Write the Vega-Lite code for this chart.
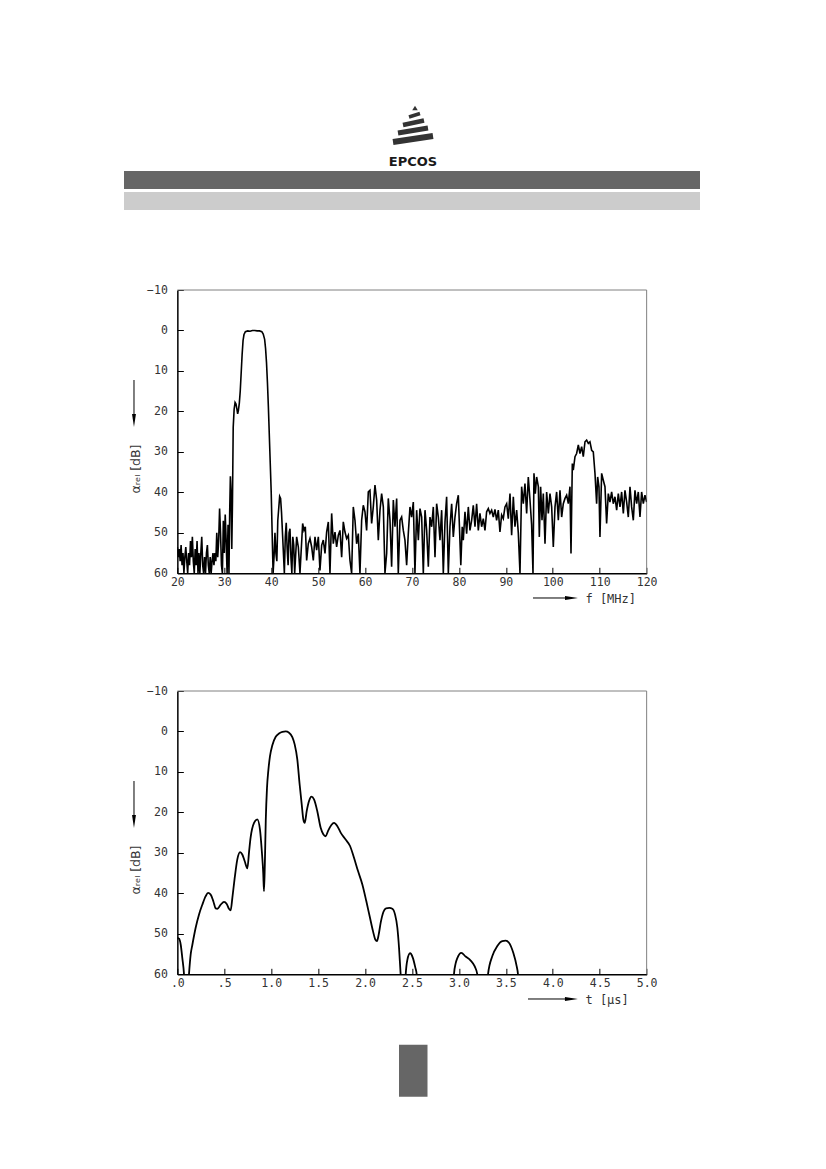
{
  "$schema": "https://vega.github.io/schema/vega-lite/v6.json",
  "background": "white",
  "padding": {"left": 124, "top": 95, "right": 0, "bottom": 0},
  "bounds": "flush",
  "center": true,
  "spacing": 20,
  "config": {
    "view": {"stroke": null},
    "axis": {
      "grid": false,
      "domainColor": "#000000",
      "domainWidth": 1.5,
      "tickColor": "#000000",
      "tickWidth": 1,
      "tickSize": -6,
      "labelFont": "DejaVu Sans Mono",
      "labelFontSize": 11.5,
      "labelColor": "#333333",
      "labelFlush": false,
      "labelOverlap": false,
      "titleFont": "DejaVu Sans Mono",
      "titleFontSize": 12,
      "titleFontWeight": "normal",
      "titleColor": "#333333"
    },
    "axisX": {"labelPadding": 9},
    "axisY": {"labelPadding": 16}
  },
  "vconcat": [
    {
      "width": 576,
      "height": 175,
      "data": {"values": [{}]},
      "layer": [
        {
          "mark": {"type": "rect", "opacity": 0},
          "encoding": {
            "x": {"datum": 124, "type": "quantitative", "scale": {"domain": [124, 700], "nice": false, "zero": false}, "axis": null},
            "x2": {"datum": 700},
            "y": {"datum": 95, "type": "quantitative", "scale": {"domain": [95, 270], "nice": false, "zero": false, "reverse": true}, "axis": null},
            "y2": {"datum": 270}
          }
        },
        {
          "mark": {"type": "rect", "color": "#666666"},
          "encoding": {"x": {"datum": 124}, "x2": {"datum": 700}, "y": {"datum": 171}, "y2": {"datum": 189}}
        },
        {
          "mark": {"type": "rect", "color": "#cccccc"},
          "encoding": {"x": {"datum": 124}, "x2": {"datum": 700}, "y": {"datum": 192}, "y2": {"datum": 210}}
        },
        {
          "mark": {"type": "point", "shape": "triangle-up", "filled": true, "size": 30, "color": "#333333", "opacity": 1},
          "encoding": {"x": {"datum": 415}, "y": {"datum": 108}}
        },
        {
          "mark": {"type": "rule", "color": "#333333", "strokeWidth": 3.5},
          "encoding": {"x": {"datum": 409}, "x2": {"datum": 420}, "y": {"datum": 117}, "y2": {"datum": 113.5}}
        },
        {
          "mark": {"type": "rule", "color": "#333333", "strokeWidth": 4.5},
          "encoding": {"x": {"datum": 403}, "x2": {"datum": 424}, "y": {"datum": 125}, "y2": {"datum": 120.5}}
        },
        {
          "mark": {"type": "rule", "color": "#333333", "strokeWidth": 5},
          "encoding": {"x": {"datum": 398}, "x2": {"datum": 428}, "y": {"datum": 133}, "y2": {"datum": 128}}
        },
        {
          "mark": {"type": "rule", "color": "#333333", "strokeWidth": 6},
          "encoding": {"x": {"datum": 393}, "x2": {"datum": 433}, "y": {"datum": 142}, "y2": {"datum": 136}}
        },
        {
          "mark": {"type": "text", "text": "EPCOS", "font": "DejaVu Sans", "fontWeight": "bold", "fontSize": 13, "color": "#1a1a1a", "align": "center", "baseline": "alphabetic"},
          "encoding": {"x": {"datum": 413}, "y": {"datum": 166}}
        }
      ]
    },
    {
      "width": 469.3,
      "height": 283.3,
      "data": {
        "values": [
          {"f": 20.0, "a": 53.5}, {"f": 20.2, "a": 56}, {"f": 20.4, "a": 54}, {"f": 20.6, "a": 57}, {"f": 20.8, "a": 53},
          {"f": 21.0, "a": 58}, {"f": 21.2, "a": 55}, {"f": 21.4, "a": 60}, {"f": 21.6, "a": 56}, {"f": 21.8, "a": 53.5},
          {"f": 22.0, "a": 57}, {"f": 22.2, "a": 60}, {"f": 22.4, "a": 55}, {"f": 22.6, "a": 58}, {"f": 22.8, "a": 52},
          {"f": 23.0, "a": 56}, {"f": 23.2, "a": 51}, {"f": 23.4, "a": 57}, {"f": 23.6, "a": 60}, {"f": 23.8, "a": 54},
          {"f": 24.0, "a": 58}, {"f": 24.2, "a": 52}, {"f": 24.4, "a": 60}, {"f": 24.6, "a": 55}, {"f": 24.8, "a": 60},
          {"f": 25.0, "a": 55}, {"f": 25.2, "a": 51}, {"f": 25.4, "a": 58}, {"f": 25.6, "a": 60}, {"f": 25.8, "a": 56},
          {"f": 26.0, "a": 60}, {"f": 26.2, "a": 55}, {"f": 26.4, "a": 53}, {"f": 26.6, "a": 58}, {"f": 26.8, "a": 60},
          {"f": 27.0, "a": 56}, {"f": 27.2, "a": 60}, {"f": 27.4, "a": 57}, {"f": 27.6, "a": 55}, {"f": 27.8, "a": 58},
          {"f": 28.0, "a": 55}, {"f": 28.2, "a": 57}, {"f": 28.4, "a": 50}, {"f": 28.6, "a": 56}, {"f": 28.8, "a": 52},
          {"f": 29.0, "a": 44}, {"f": 29.2, "a": 50}, {"f": 29.4, "a": 58}, {"f": 29.6, "a": 60}, {"f": 29.8, "a": 47},
          {"f": 30.0, "a": 55}, {"f": 30.2, "a": 45.5}, {"f": 30.4, "a": 52}, {"f": 30.6, "a": 60}, {"f": 30.8, "a": 48},
          {"f": 31.0, "a": 60}, {"f": 31.15, "a": 45}, {"f": 31.3, "a": 36}, {"f": 31.45, "a": 40}, {"f": 31.6, "a": 54},
          {"f": 31.75, "a": 42}, {"f": 31.9, "a": 24}, {"f": 32.1, "a": 19.5}, {"f": 32.3, "a": 17.8}, {"f": 32.5, "a": 18.2},
          {"f": 32.7, "a": 19.5}, {"f": 32.85, "a": 20.6}, {"f": 33.0, "a": 19.8}, {"f": 33.2, "a": 18}, {"f": 33.4, "a": 15},
          {"f": 33.6, "a": 10.5}, {"f": 33.8, "a": 6}, {"f": 34.0, "a": 2.5}, {"f": 34.2, "a": 1}, {"f": 34.5, "a": 0.3},
          {"f": 35.0, "a": 0.1}, {"f": 35.5, "a": 0.2}, {"f": 36.0, "a": 0}, {"f": 36.5, "a": 0}, {"f": 37.0, "a": 0.1},
          {"f": 37.5, "a": 0.1}, {"f": 38.0, "a": 0.3}, {"f": 38.3, "a": 0.9}, {"f": 38.6, "a": 2.2}, {"f": 38.8, "a": 4.5},
          {"f": 39.0, "a": 8}, {"f": 39.2, "a": 13}, {"f": 39.4, "a": 19}, {"f": 39.6, "a": 26}, {"f": 39.8, "a": 33},
          {"f": 40.0, "a": 40}, {"f": 40.2, "a": 50}, {"f": 40.4, "a": 60}, {"f": 40.6, "a": 56}, {"f": 40.8, "a": 50},
          {"f": 41.0, "a": 55}, {"f": 41.2, "a": 57}, {"f": 41.4, "a": 47}, {"f": 41.6, "a": 44}, {"f": 41.8, "a": 41},
          {"f": 42.0, "a": 41.5}, {"f": 42.2, "a": 45}, {"f": 42.4, "a": 50}, {"f": 42.6, "a": 55}, {"f": 42.8, "a": 60},
          {"f": 43.0, "a": 51}, {"f": 43.2, "a": 47.5}, {"f": 43.4, "a": 54}, {"f": 43.6, "a": 58}, {"f": 43.8, "a": 50},
          {"f": 44.0, "a": 49}, {"f": 44.2, "a": 56}, {"f": 44.4, "a": 60}, {"f": 44.6, "a": 51}, {"f": 44.8, "a": 53},
          {"f": 45.0, "a": 60}, {"f": 45.42, "a": 51}, {"f": 45.78, "a": 53.5}, {"f": 46.13, "a": 60}, {"f": 46.7, "a": 47.7},
          {"f": 46.98, "a": 49.4}, {"f": 47.27, "a": 48.5}, {"f": 47.55, "a": 56.8}, {"f": 47.9, "a": 52.7}, {"f": 48.26, "a": 51.4},
          {"f": 48.62, "a": 53.5}, {"f": 48.97, "a": 56.8}, {"f": 49.33, "a": 51}, {"f": 49.68, "a": 54.3}, {"f": 50.04, "a": 51},
          {"f": 50.39, "a": 59.3}, {"f": 50.75, "a": 53.1}, {"f": 51.1, "a": 51.8}, {"f": 51.46, "a": 55.1}, {"f": 51.81, "a": 49.8},
          {"f": 52.17, "a": 47.3}, {"f": 52.52, "a": 60}, {"f": 52.88, "a": 45.2}, {"f": 53.23, "a": 52.7}, {"f": 53.59, "a": 49.8},
          {"f": 53.94, "a": 53.5}, {"f": 54.3, "a": 50.6}, {"f": 54.65, "a": 49.4}, {"f": 55.01, "a": 56}, {"f": 55.36, "a": 47.3},
          {"f": 55.72, "a": 49.8}, {"f": 56.07, "a": 51.4}, {"f": 56.43, "a": 50.6}, {"f": 56.78, "a": 56.8}, {"f": 57.14, "a": 60},
          {"f": 57.49, "a": 43.6}, {"f": 57.85, "a": 46.9}, {"f": 58.2, "a": 52.7}, {"f": 58.56, "a": 50.2}, {"f": 58.91, "a": 60},
          {"f": 59.27, "a": 46.9}, {"f": 59.62, "a": 43.2}, {"f": 59.98, "a": 44.8}, {"f": 60.33, "a": 49.4}, {"f": 60.69, "a": 39.9},
          {"f": 61.04, "a": 39.5}, {"f": 61.4, "a": 47.7}, {"f": 61.75, "a": 43.6}, {"f": 62.11, "a": 38.2}, {"f": 62.47, "a": 41.9},
          {"f": 62.82, "a": 51.8}, {"f": 63.18, "a": 44.4}, {"f": 63.53, "a": 40.3}, {"f": 63.89, "a": 43.6}, {"f": 64.24, "a": 60},
          {"f": 64.6, "a": 55.1}, {"f": 64.95, "a": 41.5}, {"f": 65.31, "a": 46.9}, {"f": 65.66, "a": 58.4}, {"f": 66.02, "a": 41.9},
          {"f": 66.37, "a": 48.5}, {"f": 66.73, "a": 41.5}, {"f": 67.08, "a": 60}, {"f": 67.44, "a": 46.9}, {"f": 67.79, "a": 46.1},
          {"f": 68.15, "a": 49.4}, {"f": 68.5, "a": 51.8}, {"f": 68.86, "a": 58}, {"f": 69.21, "a": 50.2}, {"f": 69.57, "a": 43.6},
          {"f": 69.92, "a": 46.1}, {"f": 70.28, "a": 42.4}, {"f": 70.63, "a": 60}, {"f": 70.99, "a": 44.4}, {"f": 71.35, "a": 51.8},
          {"f": 71.7, "a": 44}, {"f": 72.06, "a": 46.1}, {"f": 72.41, "a": 60}, {"f": 72.77, "a": 44.4}, {"f": 73.12, "a": 49.4},
          {"f": 73.48, "a": 58.4}, {"f": 73.83, "a": 46.1}, {"f": 74.19, "a": 48.5}, {"f": 74.54, "a": 43.6}, {"f": 74.9, "a": 56},
          {"f": 75.25, "a": 42.8}, {"f": 75.61, "a": 46.1}, {"f": 75.96, "a": 51.8}, {"f": 76.32, "a": 44.4}, {"f": 76.67, "a": 60},
          {"f": 77.03, "a": 47.3}, {"f": 77.38, "a": 41.1}, {"f": 77.74, "a": 60}, {"f": 78.09, "a": 48.5}, {"f": 78.45, "a": 42.8},
          {"f": 78.8, "a": 51}, {"f": 79.16, "a": 46.1}, {"f": 79.51, "a": 42.8}, {"f": 79.87, "a": 40.7}, {"f": 80.4, "a": 58},
          {"f": 80.7, "a": 48.5}, {"f": 80.93, "a": 51.8}, {"f": 81.29, "a": 44.8}, {"f": 81.64, "a": 50.2}, {"f": 82.0, "a": 43.6},
          {"f": 82.35, "a": 49.4}, {"f": 82.71, "a": 46.9}, {"f": 83.06, "a": 43.2}, {"f": 83.42, "a": 48.5}, {"f": 83.77, "a": 42.8},
          {"f": 84.13, "a": 49.4}, {"f": 84.48, "a": 45.2}, {"f": 84.84, "a": 48.5}, {"f": 85.19, "a": 46.5}, {"f": 85.55, "a": 49.4},
          {"f": 85.9, "a": 44.8}, {"f": 86.26, "a": 44}, {"f": 86.61, "a": 45.2}, {"f": 86.97, "a": 44.4}, {"f": 87.32, "a": 46.1},
          {"f": 87.68, "a": 44.2}, {"f": 88.03, "a": 46.9}, {"f": 88.39, "a": 44.4}, {"f": 88.74, "a": 49.8}, {"f": 89.1, "a": 45.6},
          {"f": 89.45, "a": 46.5}, {"f": 89.81, "a": 43.6}, {"f": 90.17, "a": 42.8}, {"f": 90.52, "a": 46.5}, {"f": 90.88, "a": 40.3},
          {"f": 91.23, "a": 50.6}, {"f": 91.59, "a": 41.1}, {"f": 91.94, "a": 48.5}, {"f": 92.3, "a": 44.4}, {"f": 92.65, "a": 50},
          {"f": 93.01, "a": 60}, {"f": 93.36, "a": 38.6}, {"f": 93.72, "a": 42.8}, {"f": 94.07, "a": 37.8}, {"f": 94.43, "a": 45.2},
          {"f": 94.78, "a": 36.2}, {"f": 95.14, "a": 41.9}, {"f": 95.49, "a": 48}, {"f": 95.78, "a": 60}, {"f": 95.99, "a": 35.3},
          {"f": 96.27, "a": 40.3}, {"f": 96.56, "a": 36.2}, {"f": 96.92, "a": 38.6}, {"f": 97.13, "a": 51}, {"f": 97.41, "a": 38.6},
          {"f": 97.7, "a": 46.9}, {"f": 97.98, "a": 40.3}, {"f": 98.34, "a": 52.7}, {"f": 98.69, "a": 39.9}, {"f": 99.05, "a": 45.2},
          {"f": 99.4, "a": 40.3}, {"f": 99.76, "a": 43.6}, {"f": 100.11, "a": 53.5}, {"f": 100.47, "a": 43.6}, {"f": 100.82, "a": 39.9},
          {"f": 101.18, "a": 46.9}, {"f": 101.53, "a": 39.5}, {"f": 101.89, "a": 46.1}, {"f": 102.24, "a": 42.8}, {"f": 102.6, "a": 41.5},
          {"f": 102.95, "a": 40.7}, {"f": 103.31, "a": 42.8}, {"f": 103.66, "a": 38.6}, {"f": 103.88, "a": 55.1}, {"f": 104.16, "a": 32.9},
          {"f": 104.37, "a": 34.5}, {"f": 104.73, "a": 31.2}, {"f": 105.08, "a": 30.4}, {"f": 105.44, "a": 28.3}, {"f": 105.79, "a": 30.4},
          {"f": 106.15, "a": 28.7}, {"f": 106.5, "a": 31.2}, {"f": 106.86, "a": 27.5}, {"f": 107.21, "a": 27.1}, {"f": 107.57, "a": 27.9},
          {"f": 107.92, "a": 27.5}, {"f": 108.28, "a": 29.6}, {"f": 108.63, "a": 30}, {"f": 108.99, "a": 35.3}, {"f": 109.34, "a": 42.8},
          {"f": 109.56, "a": 36.2}, {"f": 109.84, "a": 38.6}, {"f": 110.05, "a": 51}, {"f": 110.41, "a": 35.3}, {"f": 110.76, "a": 37},
          {"f": 111.12, "a": 38.6}, {"f": 111.47, "a": 47.7}, {"f": 111.83, "a": 40.3}, {"f": 112.18, "a": 42.4}, {"f": 112.54, "a": 39.9},
          {"f": 112.89, "a": 42.8}, {"f": 113.25, "a": 41.1}, {"f": 113.61, "a": 44.4}, {"f": 113.96, "a": 40.3}, {"f": 114.32, "a": 43.6},
          {"f": 114.67, "a": 39.9}, {"f": 115.03, "a": 45.2}, {"f": 115.38, "a": 39.5}, {"f": 115.74, "a": 42.4}, {"f": 116.09, "a": 46.1},
          {"f": 116.45, "a": 38.6}, {"f": 116.8, "a": 43.6}, {"f": 117.16, "a": 46.9}, {"f": 117.51, "a": 39.5}, {"f": 117.87, "a": 42.8},
          {"f": 118.22, "a": 39.9}, {"f": 118.58, "a": 46.1}, {"f": 118.93, "a": 39.9}, {"f": 119.29, "a": 42.8}, {"f": 119.64, "a": 40.7},
          {"f": 120.0, "a": 42.4}
        ]
      },
      "layer": [
        {
          "data": {"values": [{}]},
          "mark": {"type": "rule", "color": "#808080", "strokeWidth": 1},
          "encoding": {"x": {"datum": 20}, "x2": {"datum": 120}, "y": {"datum": -10}}
        },
        {
          "data": {"values": [{}]},
          "mark": {"type": "rule", "color": "#808080", "strokeWidth": 1},
          "encoding": {"x": {"datum": 120}, "y": {"datum": -10}, "y2": {"datum": 60}}
        },
        {
          "mark": {"type": "line", "color": "#000000", "strokeWidth": 1.6, "clip": true},
          "encoding": {
            "x": {
              "field": "f", "type": "quantitative",
              "scale": {"domain": [20, 120], "nice": false, "zero": false},
              "axis": {
                "values": [20, 25, 30, 35, 40, 45, 50, 55, 60, 65, 70, 75, 80, 85, 90, 95, 100, 105, 110, 115, 120],
                "labelExpr": "datum.value % 10 === 0 ? datum.label : ''",
                "title": "f [MHz]",
                "titleX": 407.6, "titleY": 25.5, "titleAlign": "left", "titleBaseline": "middle"
              }
            },
            "y": {
              "field": "a", "type": "quantitative",
              "scale": {"domain": [-10, 60], "nice": false, "zero": false, "reverse": true},
              "axis": {
                "values": [-10, -5, 0, 5, 10, 15, 20, 25, 30, 35, 40, 45, 50, 55, 60],
                "labelExpr": "datum.value % 10 === 0 ? datum.label : ''",
                "title": "αᵣₑₗ [dB]",
                "titleFont": "DejaVu Sans", "titleFontSize": 12.5,
                "titleX": -42, "titleY": 203, "titleAngle": 270, "titleAlign": "left", "titleBaseline": "middle"
              }
            }
          }
        },
        {
          "data": {"values": [{}]},
          "mark": {"type": "rule", "color": "#000000", "strokeWidth": 1},
          "encoding": {"x": {"datum": 95.78}, "x2": {"datum": 103.99}, "y": {"datum": 66.1}}
        },
        {
          "data": {"values": [{}]},
          "mark": {"type": "point", "shape": "M-1,-0.3L1,0L-1,0.3Z", "filled": true, "size": 169, "color": "#000000", "opacity": 1},
          "encoding": {"x": {"datum": 103.99}, "y": {"datum": 66.1}}
        },
        {
          "data": {"values": [{}]},
          "mark": {"type": "rule", "color": "#000000", "strokeWidth": 1},
          "encoding": {"x": {"datum": 10.76}, "y": {"datum": 12.24}, "y2": {"datum": 22.25}}
        },
        {
          "data": {"values": [{}]},
          "mark": {"type": "point", "shape": "M-0.3,-1L0.3,-1L0,1Z", "filled": true, "size": 169, "color": "#000000", "opacity": 1},
          "encoding": {"x": {"datum": 10.76}, "y": {"datum": 22.25}}
        }
      ]
    },
    {
      "width": 10,
      "height": 76.7,
      "data": {"values": []},
      "mark": "point"
    },
    {
      "width": 469.3,
      "height": 283.3,
      "data": {
        "values": [
          {"s": 1, "t": 0, "a": 51}, {"s": 1, "t": 0.018, "a": 51.2}, {"s": 1, "t": 0.036, "a": 52.7}, {"s": 1, "t": 0.053, "a": 56},
          {"s": 1, "t": 0.071, "a": 60}, {"s": 1, "t": 0.076, "a": 62},
          {"s": 2, "t": 0.118, "a": 62}, {"s": 2, "t": 0.124, "a": 60}, {"s": 2, "t": 0.142, "a": 55.1}, {"s": 2, "t": 0.16, "a": 52.7},
          {"s": 2, "t": 0.195, "a": 48.5}, {"s": 2, "t": 0.231, "a": 45.2}, {"s": 2, "t": 0.266, "a": 42.8}, {"s": 2, "t": 0.302, "a": 40.7},
          {"s": 2, "t": 0.327, "a": 39.9}, {"s": 2, "t": 0.355, "a": 40.3}, {"s": 2, "t": 0.384, "a": 42}, {"s": 2, "t": 0.408, "a": 43.7},
          {"s": 2, "t": 0.426, "a": 43.8}, {"s": 2, "t": 0.462, "a": 42.8}, {"s": 2, "t": 0.497, "a": 42.1}, {"s": 2, "t": 0.526, "a": 42.6},
          {"s": 2, "t": 0.55, "a": 43.8}, {"s": 2, "t": 0.568, "a": 44.2}, {"s": 2, "t": 0.586, "a": 41.1}, {"s": 2, "t": 0.611, "a": 36.2},
          {"s": 2, "t": 0.639, "a": 31.6}, {"s": 2, "t": 0.668, "a": 29.8}, {"s": 2, "t": 0.692, "a": 30.4}, {"s": 2, "t": 0.717, "a": 32},
          {"s": 2, "t": 0.746, "a": 33.8}, {"s": 2, "t": 0.765, "a": 29.5}, {"s": 2, "t": 0.78, "a": 26.3}, {"s": 2, "t": 0.817, "a": 22.6},
          {"s": 2, "t": 0.852, "a": 21.7}, {"s": 2, "t": 0.88, "a": 24.2}, {"s": 2, "t": 0.9, "a": 29.6}, {"s": 2, "t": 0.915, "a": 35},
          {"s": 2, "t": 0.923, "a": 39.5}, {"s": 2, "t": 0.932, "a": 33}, {"s": 2, "t": 0.942, "a": 22}, {"s": 2, "t": 0.955, "a": 14},
          {"s": 2, "t": 0.97, "a": 9.5}, {"s": 2, "t": 0.987, "a": 6.1}, {"s": 2, "t": 1.012, "a": 3.4}, {"s": 2, "t": 1.048, "a": 1.3},
          {"s": 2, "t": 1.083, "a": 0.5}, {"s": 2, "t": 1.119, "a": 0.1}, {"s": 2, "t": 1.154, "a": 0}, {"s": 2, "t": 1.19, "a": 0.3},
          {"s": 2, "t": 1.225, "a": 1.4}, {"s": 2, "t": 1.25, "a": 3.2}, {"s": 2, "t": 1.278, "a": 6.9}, {"s": 2, "t": 1.303, "a": 13.1},
          {"s": 2, "t": 1.325, "a": 18}, {"s": 2, "t": 1.342, "a": 21.7}, {"s": 2, "t": 1.357, "a": 22.6}, {"s": 2, "t": 1.378, "a": 19.7},
          {"s": 2, "t": 1.403, "a": 17.2}, {"s": 2, "t": 1.428, "a": 16.1}, {"s": 2, "t": 1.456, "a": 16.8}, {"s": 2, "t": 1.491, "a": 19.7},
          {"s": 2, "t": 1.527, "a": 23.8}, {"s": 2, "t": 1.555, "a": 25.4}, {"s": 2, "t": 1.58, "a": 25.9}, {"s": 2, "t": 1.605, "a": 24.6},
          {"s": 2, "t": 1.641, "a": 23.1}, {"s": 2, "t": 1.669, "a": 22.6}, {"s": 2, "t": 1.705, "a": 23.4}, {"s": 2, "t": 1.74, "a": 25},
          {"s": 2, "t": 1.793, "a": 26.7}, {"s": 2, "t": 1.84, "a": 28.3}, {"s": 2, "t": 1.882, "a": 31.2}, {"s": 2, "t": 1.925, "a": 34.5},
          {"s": 2, "t": 1.971, "a": 37.8}, {"s": 2, "t": 2.013, "a": 41.9}, {"s": 2, "t": 2.053, "a": 46.1}, {"s": 2, "t": 2.085, "a": 49.4},
          {"s": 2, "t": 2.109, "a": 51.4}, {"s": 2, "t": 2.127, "a": 51.8}, {"s": 2, "t": 2.145, "a": 50.2}, {"s": 2, "t": 2.166, "a": 47.3},
          {"s": 2, "t": 2.195, "a": 44.6}, {"s": 2, "t": 2.223, "a": 43.7}, {"s": 2, "t": 2.259, "a": 43.6}, {"s": 2, "t": 2.29, "a": 43.8},
          {"s": 2, "t": 2.319, "a": 45.2}, {"s": 2, "t": 2.344, "a": 48.5}, {"s": 2, "t": 2.362, "a": 53.5}, {"s": 2, "t": 2.379, "a": 60},
          {"s": 2, "t": 2.385, "a": 62},
          {"s": 3, "t": 2.428, "a": 62}, {"s": 3, "t": 2.433, "a": 60}, {"s": 3, "t": 2.45, "a": 56.5}, {"s": 3, "t": 2.479, "a": 54.8},
          {"s": 3, "t": 2.51, "a": 56}, {"s": 3, "t": 2.535, "a": 58.3}, {"s": 3, "t": 2.55, "a": 60}, {"s": 3, "t": 2.555, "a": 62},
          {"s": 4, "t": 2.942, "a": 62}, {"s": 4, "t": 2.947, "a": 60}, {"s": 4, "t": 2.965, "a": 57.3}, {"s": 4, "t": 2.983, "a": 56},
          {"s": 4, "t": 3.025, "a": 54.7}, {"s": 4, "t": 3.071, "a": 55.6}, {"s": 4, "t": 3.125, "a": 56.6}, {"s": 4, "t": 3.167, "a": 58},
          {"s": 4, "t": 3.196, "a": 60}, {"s": 4, "t": 3.2, "a": 62},
          {"s": 5, "t": 3.305, "a": 62}, {"s": 5, "t": 3.31, "a": 60}, {"s": 5, "t": 3.356, "a": 55.5}, {"s": 5, "t": 3.409, "a": 53},
          {"s": 5, "t": 3.462, "a": 51.8}, {"s": 5, "t": 3.498, "a": 51.7}, {"s": 5, "t": 3.533, "a": 52.2}, {"s": 5, "t": 3.579, "a": 54.7},
          {"s": 5, "t": 3.615, "a": 58}, {"s": 5, "t": 3.629, "a": 60}, {"s": 5, "t": 3.634, "a": 62}
        ]
      },
      "layer": [
        {
          "data": {"values": [{}]},
          "mark": {"type": "rule", "color": "#808080", "strokeWidth": 1},
          "encoding": {"x": {"datum": 0}, "x2": {"datum": 5}, "y": {"datum": -10}}
        },
        {
          "data": {"values": [{}]},
          "mark": {"type": "rule", "color": "#808080", "strokeWidth": 1},
          "encoding": {"x": {"datum": 5}, "y": {"datum": -10}, "y2": {"datum": 60}}
        },
        {
          "mark": {"type": "line", "color": "#000000", "strokeWidth": 1.8, "interpolate": "monotone", "clip": true},
          "encoding": {
            "detail": {"field": "s", "type": "nominal"},
            "x": {
              "field": "t", "type": "quantitative",
              "scale": {"domain": [0, 5], "nice": false, "zero": false},
              "axis": {
                "values": [0, 0.5, 1, 1.5, 2, 2.5, 3, 3.5, 4, 4.5, 5],
                "labelExpr": "datum.value < 1 ? slice(format(datum.value, '.1f'), 1) : format(datum.value, '.1f')",
                "title": "t [μs]",
                "titleX": 407.6, "titleY": 25.5, "titleAlign": "left", "titleBaseline": "middle"
              }
            },
            "y": {
              "field": "a", "type": "quantitative",
              "scale": {"domain": [-10, 60], "nice": false, "zero": false, "reverse": true},
              "axis": {
                "values": [-10, -5, 0, 5, 10, 15, 20, 25, 30, 35, 40, 45, 50, 55, 60],
                "labelExpr": "datum.value % 10 === 0 ? datum.label : ''",
                "title": "αᵣₑₗ [dB]",
                "titleFont": "DejaVu Sans", "titleFontSize": 12.5,
                "titleX": -42, "titleY": 203, "titleAngle": 270, "titleAlign": "left", "titleBaseline": "middle"
              }
            }
          }
        },
        {
          "data": {"values": [{}]},
          "mark": {"type": "rule", "color": "#000000", "strokeWidth": 1},
          "encoding": {"x": {"datum": 3.736}, "x2": {"datum": 4.199}, "y": {"datum": 66.1}}
        },
        {
          "data": {"values": [{}]},
          "mark": {"type": "point", "shape": "M-1,-0.3L1,0L-1,0.3Z", "filled": true, "size": 169, "color": "#000000", "opacity": 1},
          "encoding": {"x": {"datum": 4.199}, "y": {"datum": 66.1}}
        },
        {
          "data": {"values": [{}]},
          "mark": {"type": "rule", "color": "#000000", "strokeWidth": 1},
          "encoding": {"x": {"datum": -0.462}, "y": {"datum": 12.24}, "y2": {"datum": 22.25}}
        },
        {
          "data": {"values": [{}]},
          "mark": {"type": "point", "shape": "M-0.3,-1L0.3,-1L0,1Z", "filled": true, "size": 169, "color": "#000000", "opacity": 1},
          "encoding": {"x": {"datum": -0.462}, "y": {"datum": 22.25}}
        }
      ]
    },
    {
      "width": 576,
      "height": 110,
      "data": {"values": [{}]},
      "mark": {"type": "rect", "color": "#666666"},
      "encoding": {
        "x": {"datum": 399, "type": "quantitative", "scale": {"domain": [124, 700], "nice": false, "zero": false}, "axis": null},
        "x2": {"datum": 427.5},
        "y": {"datum": 1043, "type": "quantitative", "scale": {"domain": [993.3, 1103.3], "nice": false, "zero": false, "reverse": true}, "axis": null},
        "y2": {"datum": 1095}
      }
    }
  ]
}
